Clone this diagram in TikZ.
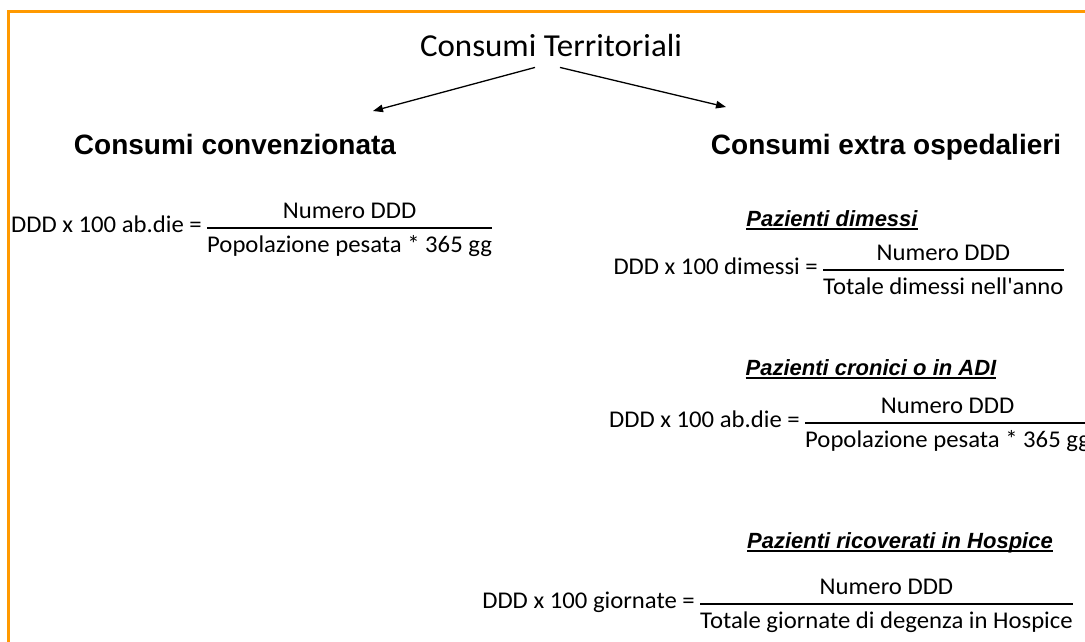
\documentclass[tikz,border=0pt]{standalone}
\usepackage{fontspec}
\setmainfont{Carlito}[FakeStretch=1.03]
\newfontfamily\arialfont{Liberation Sans}
\usetikzlibrary{arrows.meta,calc}
\definecolor{frameorange}{RGB}{255,153,0}
\newcommand\ulx[1]{\setbox0=\hbox{#1}\rlap{\rule[-4pt]{\wd0}{1.6pt}}\box0}
\begin{document}
\begin{tikzpicture}[x=1pt,y=-1pt,
  titletext/.style={inner sep=0pt,font=\fontsize{32}{38}\selectfont},
  headtext/.style={inner sep=0pt,font=\arialfont\bfseries\fontsize{28}{34}\selectfont},
  subhead/.style={inner sep=0pt,font=\arialfont\bfseries\itshape\fontsize{22}{26}\selectfont},
  ftext/.style={inner sep=0pt,font=\fontsize{24}{28}\selectfont},
  fbar/.style={line width=1.2pt},
  arr/.style={line width=1.3pt,-{Triangle[length=10pt,width=7.5pt]}},
  frame/.style={frameorange,line width=3pt}]
\useasboundingbox (0,0) rectangle (1085,641);
\clip (0,0) rectangle (1085,641);
\fill[white] (0,0) rectangle (1085,641);
\draw[frame] (8,645) -- (8,11) -- (1090,11);

% title and headings
\node[titletext,anchor=base] (title) at (551,56) {Consumi Territoriali};
\node[headtext,anchor=base] (conv) at (235,154) {Consumi convenzionata};
\node[headtext,anchor=base] (extra) at (886,154) {Consumi extra ospedalieri};
\coordinate (tipL) at (373,111);
\coordinate (tipR) at (726,107);
\draw[arr] ($(title.south)+(-16,11)$) -- (tipL);
\draw[arr] ($(title.south)+(9,11)$) -- (tipR);

% formula 1
\node[ftext,anchor=base west] (d1) at (207,252) {Popolazione pesata * 365 gg};
\node[ftext,anchor=base] (n1) at ($(d1.base)+(0,-34)$) {Numero DDD};
\node[ftext,anchor=base east] (l1) at ($(d1.base west)+(-5,-20)$) {DDD x 100 ab.die =};
\draw[fbar] ($(d1.base west)+(0,-24)$) -- ($(d1.base east)+(0,-24)$);

% formula 2
\node[subhead,anchor=base] (s2) at (832,226) {\ulx{Pazienti dimessi}};
\node[ftext,anchor=base west] (d2) at (823,294) {Totale dimessi nell\textquotesingle anno};
\node[ftext,anchor=base] (n2) at ($(d2.base)+(0,-34)$) {Numero DDD};
\node[ftext,anchor=base east] (l2) at ($(d2.base west)+(-5,-20)$) {DDD x 100 dimessi =};
\draw[fbar] ($(d2.base west)+(0,-24)$) -- ($(d2.base east)+(0,-24)$);

% formula 3
\node[subhead,anchor=base] (s3) at (871,375) {\ulx{Pazienti cronici o in ADI}};
\node[ftext,anchor=base west] (d3) at (805,447) {Popolazione pesata * 365 gg};
\node[ftext,anchor=base] (n3) at ($(d3.base)+(0,-34)$) {Numero DDD};
\node[ftext,anchor=base east] (l3) at ($(d3.base west)+(-5,-20)$) {DDD x 100 ab.die =};
\draw[fbar] ($(d3.base west)+(0,-24)$) -- ($(d3.base east)+(0,-24)$);

% formula 4
\node[subhead,anchor=base] (s4) at (900,548) {\ulx{Pazienti ricoverati in Hospice}};
\node[ftext,anchor=base west] (d4) at (700,628) {Totale giornate di degenza in Hospice};
\node[ftext,anchor=base] (n4) at ($(d4.base)+(0,-34)$) {Numero DDD};
\node[ftext,anchor=base east] (l4) at ($(d4.base west)+(-5,-20)$) {DDD x 100 giornate =};
\draw[fbar] ($(d4.base west)+(0,-24)$) -- ($(d4.base east)+(0,-24)$);
\end{tikzpicture}
\end{document}
